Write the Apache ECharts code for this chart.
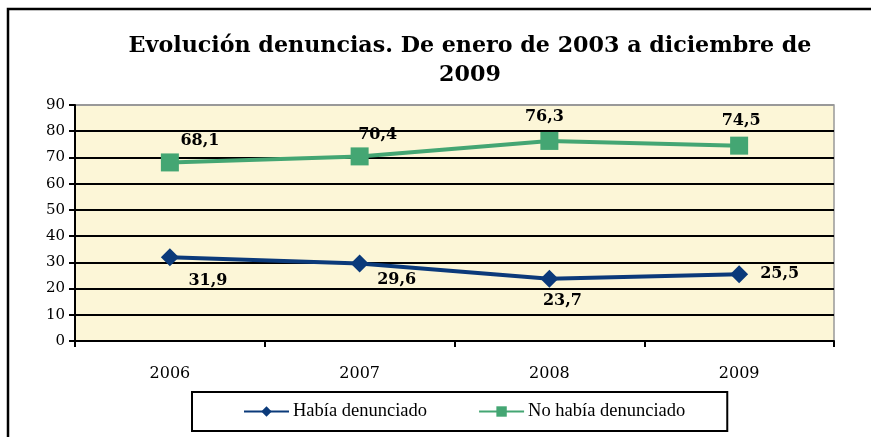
<!DOCTYPE html>
<html><head><meta charset="utf-8">
<script src="https://cdn.jsdelivr.net/npm/echarts@6/dist/echarts.min.js"></script>
<style>html,body{margin:0;padding:0;background:#fff}#c{width:871px;height:437px}</style>
</head><body><div id="c"></div>
<script>
var categories = ['2006', '2007', '2008', '2009'];
var habiaDenunciado = [31.9, 29.6, 23.7, 25.5];
var noHabiaDenunciado = [68.1, 70.4, 76.3, 74.5];
var seriesNames = ['Había denunciado', 'No había denunciado'];
var titleText = 'Evolución denuncias. De enero de 2003 a diciembre de\n2009';

// label offsets (style, not data)
var blueOffsets = [[38, 1], [37, -6], [13, 0], [7, 0]];
var greenOffsets = [[30, 0], [18, 0], [-5, -2], [2, -3]];

function fmt(p) { return String(p.value).replace('.', ','); }
var lblStyle = { fontFamily: 'DejaVu Serif', fontWeight: 'bold', fontSize: 16, color: '#000' };

function mkData(vals, offs, pos) {
  return vals.map(function (v, i) {
    return { value: v, label: Object.assign({ show: true, position: pos[i], offset: offs[i], formatter: fmt }, lblStyle) };
  });
}

var chart = echarts.init(document.getElementById('c'));
chart.setOption({
  animation: false,
  backgroundColor: '#fff',
  title: {
    text: titleText, left: 465, top: 27, textAlign: 'center',
    textStyle: { fontFamily: 'DejaVu Serif', fontWeight: 'bold', fontSize: 22.2, lineHeight: 29, color: '#000' }
  },
  graphic: [{ type: 'rect', shape: { x: 8, y: 9, width: 900, height: 500 }, style: { fill: 'none', stroke: '#000', lineWidth: 2.5 }, silent: true }],
  grid: { left: 75, right: 37, top: 105, bottom: 96, show: true, backgroundColor: '#FCF6D7', borderColor: '#999', borderWidth: 1.5 },
  xAxis: {
    type: 'category', data: categories, boundaryGap: true,
    axisLine: { lineStyle: { color: '#000', width: 2 } },
    axisTick: { show: true, length: 6, lineStyle: { color: '#000', width: 2 } },
    axisLabel: { fontFamily: 'DejaVu Serif', fontSize: 16, color: '#000', margin: 25 }
  },
  yAxis: {
    type: 'value', min: 0, max: 90, interval: 10,
    axisLine: { show: true, lineStyle: { color: '#000', width: 2 } },
    axisTick: { show: true, length: 6, lineStyle: { color: '#000', width: 2 } },
    axisLabel: { fontFamily: 'DejaVu Serif', fontSize: 15, color: '#000', margin: 10 },
    splitLine: { show: true, lineStyle: { color: ['#000', '#000', '#000', '#000', '#000', '#000', '#000', '#000', '#000', '#999'], width: 2 } }
  },
  legend: {
    left: 192, top: 392,
    padding: [10, 42, 10, 51], itemGap: 51, itemWidth: 45, itemHeight: 13,
    borderColor: '#000', borderWidth: 2,
    textStyle: { fontFamily: 'Liberation Serif', fontSize: 18.5, color: '#000', padding: [0, 0, 0, -1] },
    data: seriesNames
  },
  series: [
    {
      name: seriesNames[0], type: 'line', data: mkData(habiaDenunciado, blueOffsets, ['bottom', 'bottom', 'bottom', 'right']),
      symbol: 'diamond', symbolSize: 18, color: '#0B3A7A',
      lineStyle: { width: 4, color: '#0B3A7A' }, itemStyle: { color: '#0B3A7A' }
    },
    {
      name: seriesNames[1], type: 'line', data: mkData(noHabiaDenunciado, greenOffsets, ['top', 'top', 'top', 'top']),
      symbol: 'rect', symbolSize: 18, color: '#44A673',
      lineStyle: { width: 4, color: '#44A673' }, itemStyle: { color: '#44A673' }
    }
  ]
});
</script></body></html>
